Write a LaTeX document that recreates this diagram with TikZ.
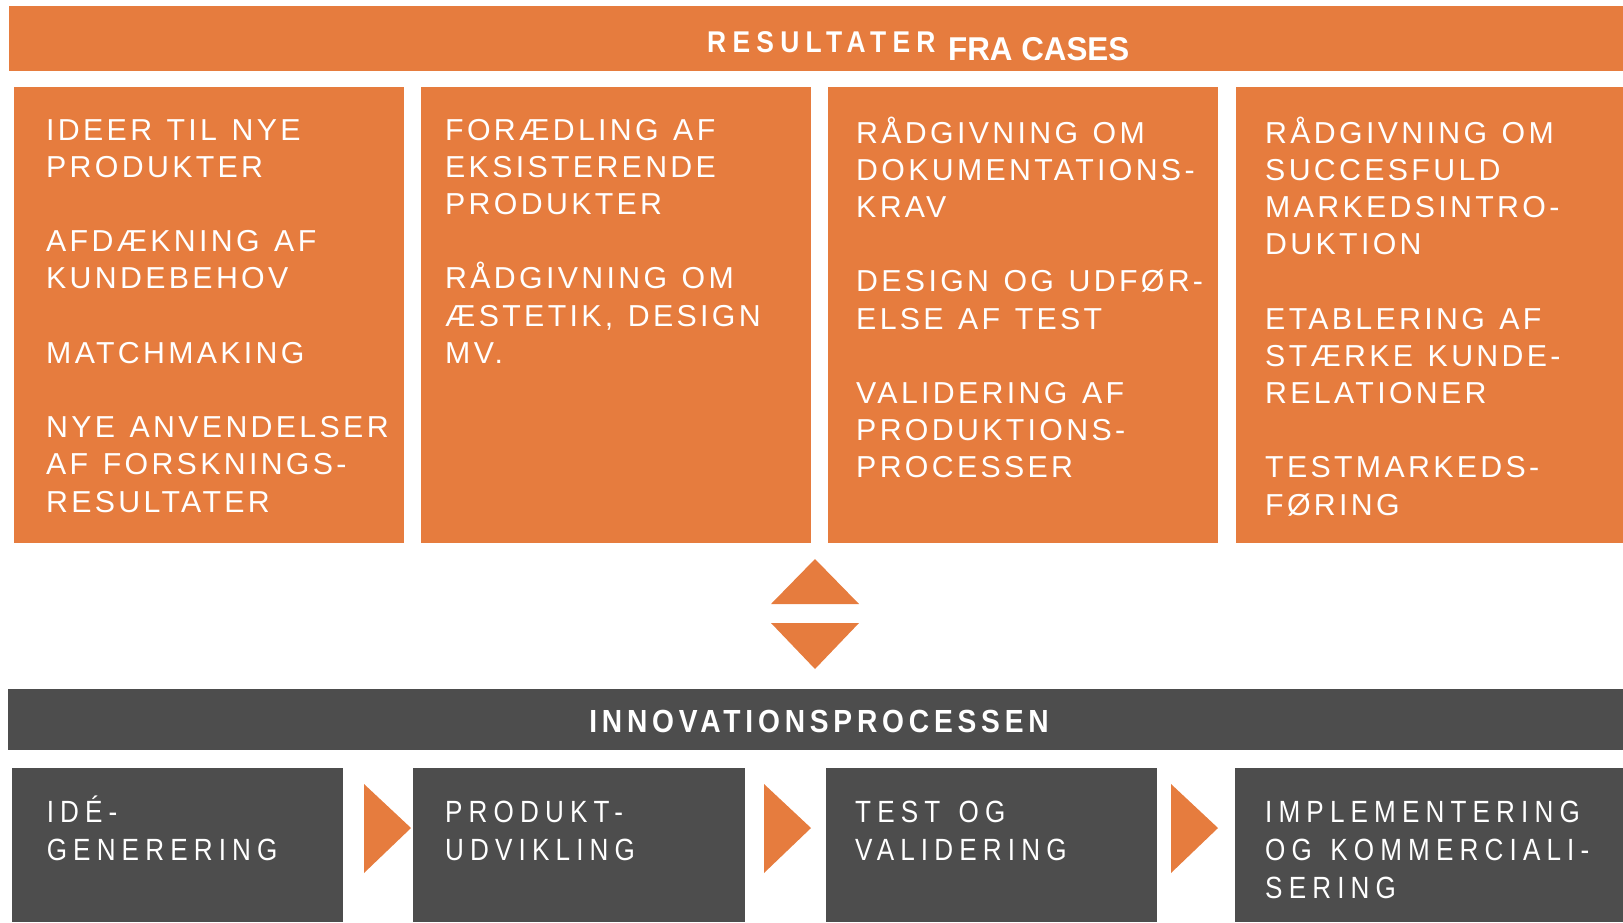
\documentclass[tikz,border=0pt]{standalone}
\usepackage{fontspec}
\setmainfont{Liberation Sans}
\newfontfamily\boxfont[LetterSpace=11]{Liberation Sans}
\newfontfamily\stepfont[FakeStretch=0.85,LetterSpace=20]{Liberation Sans}
\newfontfamily\barfont[FakeStretch=0.88,LetterSpace=15]{Liberation Sans}
\newfontfamily\resfont[FakeStretch=0.88,LetterSpace=21]{Liberation Sans}
\newfontfamily\casefont[FakeStretch=0.95]{Liberation Sans}
\newcommand{\boxsp}{\hspace{0.48em}}
\newcommand{\stepsp}{\hspace{0.6em}}
\definecolor{caseorange}{HTML}{E67C3E}
\definecolor{procgray}{HTML}{4D4D4D}
\tikzset{%
   resbar/.style={fill=caseorange, anchor=north west, inner sep=0pt},%
   procbar/.style={fill=procgray, anchor=north west, inner sep=0pt},%
   resbox/.style={fill=caseorange, anchor=north west, inner sep=0pt,
      minimum width=#1, minimum height=456pt},%
   stepbox/.style={fill=procgray, anchor=north west, inner sep=0pt,
      minimum width=#1, minimum height=154pt},%
   restext/.style={anchor=base west, inner sep=0pt, text width=380pt,
      align=left, text=white, font=\boxfont\fontsize{30.3}{37.2}\selectfont},%
   steptext/.style={anchor=base west, inner sep=0pt, text width=370pt,
      align=left, text=white, font=\stepfont\fontsize{30.7}{38}\selectfont},%
}
\begin{document}
\begin{tikzpicture}[x=1pt, y=-1pt]%
      \useasboundingbox (0,0) rectangle (1623,922);%
      % ~ header
      \node[resbar, minimum width=1614pt, minimum height=65pt] (resbar) at (9,6) {};%
      \node[anchor=base west, inner sep=0pt, text=white,
         font=\resfont\bfseries\fontsize{30}{36}\selectfont] (restitle) at (707,52) {RESULTATER};%
      \node[anchor=base west, inner sep=0pt, text=white,
         font=\casefont\bfseries\fontsize{33}{38}\selectfont] (casetitle) at (948,60) {FRA CASES};%
      % ~ result boxes
      \foreach \i/\xl/\w in {1/13.5/390.5, 2/421/390, 3/828/390, 4/1236/387}%
         {%
            \node[resbox=\w pt] (res\i) at (\xl,87) {};%
         }%
      \node[restext] (res1txt) at (46,140)
         {IDEER\boxsp TIL\boxsp NYE\\PRODUKTER\\[37.2pt]AFDÆKNING\boxsp AF\\KUNDEBEHOV\\[37.2pt]MATCHMAKING\\[37.2pt]NYE\boxsp ANVENDELSER\\AF\boxsp FORSKNINGS-\\RESULTATER};
      \node[restext] (res2txt) at (445,140)
         {FORÆDLING\boxsp AF\\EKSISTERENDE\\PRODUKTER\\[37.2pt]RÅDGIVNING\boxsp OM\\ÆSTETIK,\boxsp DESIGN\\MV.};
      \node[restext] (res3txt) at (856,143)
         {RÅDGIVNING\boxsp OM\\DOKUMENTATIONS-\\KRAV\\[37.2pt]DESIGN\boxsp OG\boxsp UDFØR-\\ELSE\boxsp AF\boxsp TEST\\[37.2pt]VALIDERING\boxsp AF\\PRODUKTIONS-\\PROCESSER};
      \node[restext] (res4txt) at (1265,143)
         {RÅDGIVNING\boxsp OM\\SUCCESFULD\\MARKEDSINTRO-\\DUKTION\\[37.2pt]ETABLERING\boxsp AF\\STÆRKE\boxsp KUNDE-\\RELATIONER\\[37.2pt]TESTMARKEDS-\\FØRING};
      % ~ up and down
      \fill[caseorange] (771,604) -- (815,559) -- (859,604) -- cycle;%
      \fill[caseorange] (771,623) -- (815,669) -- (859,623) -- cycle;%
      % ~ process bar
      \node[procbar, minimum width=1615pt, minimum height=61pt] (procbar) at (8,689) {};%
      \node[anchor=base, inner sep=0pt, text=white,
         font=\barfont\bfseries\fontsize{32}{38}\selectfont] (proctitle) at (819,732) {INNOVATIONSPROCESSEN};%
      % ~ process steps
      \foreach \i/\xl/\w in {1/11.5/331.5, 2/413/332, 3/826/331, 4/1235/388}%
         {%
            \node[stepbox=\w pt] (step\i) at (\xl,768) {};%
         }%
      \node[steptext] (step1txt) at (46.6,822) {IDÉ-\\GENERERING};
      \node[steptext] (step2txt) at (445,822) {PRODUKT-\\UDVIKLING};
      \node[steptext] (step3txt) at (855,822) {TEST\stepsp OG\\VALIDERING};
      \node[steptext] (step4txt) at (1265,822) {IMPLEMENTERING\\OG\stepsp KOMMERCIALI-\\SERING};
      % ~ arrows between steps
      \foreach \xa in {364,764,1171}%
         {%
            \fill[caseorange] (\xa,784) -- (\xa+47,828) -- (\xa,873) -- cycle;%
         }%
   \end{tikzpicture}
\end{document}
